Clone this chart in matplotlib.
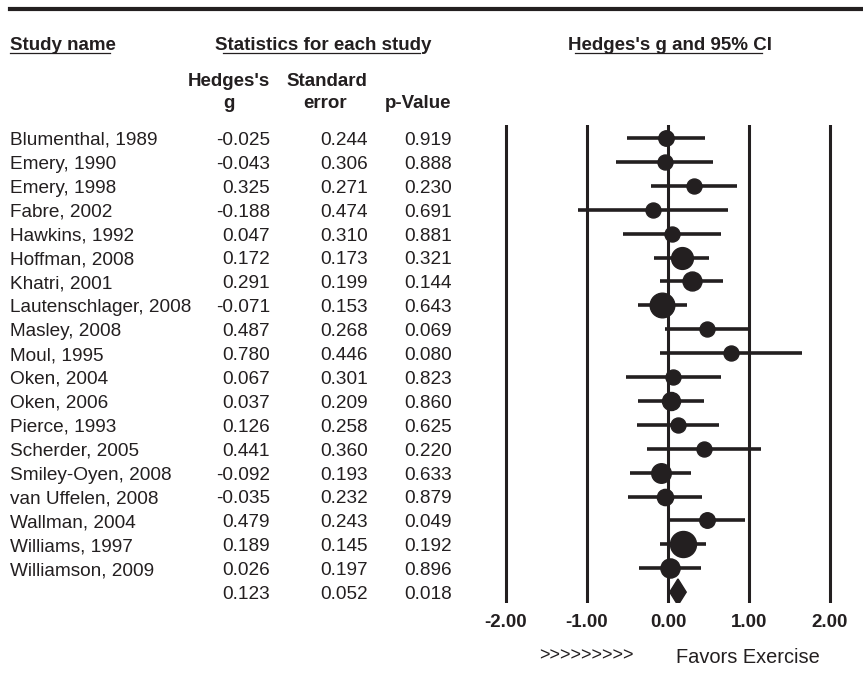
import numpy as np
import matplotlib
matplotlib.use("Agg")
import matplotlib.pyplot as plt
from matplotlib import transforms
from matplotlib.lines import Line2D

plt.rcParams["font.family"] = ["Liberation Sans", "DejaVu Sans"]

# data
studies = [
    "Blumenthal, 1989", "Emery, 1990", "Emery, 1998", "Fabre, 2002",
    "Hawkins, 1992", "Hoffman, 2008", "Khatri, 2001", "Lautenschlager, 2008",
    "Masley, 2008", "Moul, 1995", "Oken, 2004", "Oken, 2006", "Pierce, 1993",
    "Scherder, 2005", "Smiley-Oyen, 2008", "van Uffelen, 2008",
    "Wallman, 2004", "Williams, 1997", "Williamson, 2009",
]
hedges_g = [-0.025, -0.043, 0.325, -0.188, 0.047, 0.172, 0.291, -0.071,
            0.487, 0.780, 0.067, 0.037, 0.126, 0.441, -0.092, -0.035,
            0.479, 0.189, 0.026]
std_err = [0.244, 0.306, 0.271, 0.474, 0.310, 0.173, 0.199, 0.153,
           0.268, 0.446, 0.301, 0.209, 0.258, 0.360, 0.193, 0.232,
           0.243, 0.145, 0.197]
p_value = [0.919, 0.888, 0.230, 0.691, 0.881, 0.321, 0.144, 0.643,
           0.069, 0.080, 0.823, 0.860, 0.625, 0.220, 0.633, 0.879,
           0.049, 0.192, 0.896]
summary_g, summary_se, summary_p = 0.123, 0.052, 0.018
axis_ticks = [-2, -1, 0, 1, 2]

INK = "#231f20"
W, H = 863, 692
FS = 13.7   # body text
FSB = 13.5  # bold headers


def fx(px):
    return px / W


def fy(py):
    return 1 - py / H


fig = plt.figure(figsize=(8.63, 6.92), dpi=100)

# forest plot axes: 0 at 668 px, 81 px per unit, rows from y=138 step 23.9
ax = fig.add_axes([fx(489.8), fy(603), 364.5 / W, 478 / H])
ax.set_xlim(-2.2, 2.3)
ax.set_ylim(19.456, -0.544)
for s in ax.spines.values():
    s.set_visible(False)
ax.set_yticks([])
ax.set_xticks(axis_ticks)
ax.set_xticklabels(["%.2f" % t for t in axis_ticks], fontsize=FSB,
                   fontweight="bold", color=INK)
ax.tick_params(axis="x", length=0, pad=8)

for t in axis_ticks:
    ax.axvline(t, color=INK, lw=2.2, zorder=1)

for i, (g, se) in enumerate(zip(hedges_g, std_err)):
    lo, hi = g - 1.96 * se, g + 1.96 * se
    ax.plot([lo, hi], [i, i], color=INK, lw=2.6, solid_capstyle="butt",
            zorder=2)
    d = max(15, 3.77 / se)
    ax.plot(g, i, "o", color=INK, ms=d * 0.72, mec=INK, zorder=3)

n = len(studies)
lo, hi = summary_g - 1.96 * summary_se, summary_g + 1.96 * summary_se
ax.fill([lo, summary_g, hi, summary_g], [n, n - 0.55, n, n + 0.55],
        color=INK, zorder=3)

# table text
tr = transforms.blended_transform_factory(fig.transFigure, ax.transData)
off = 0.29
for i, name in enumerate(studies):
    y = i + off
    fig.text(fx(10), y, name, transform=tr, fontsize=FS, color=INK,
             va="baseline", ha="left")
    fig.text(fx(270), y, "%.3f" % hedges_g[i], transform=tr, fontsize=FS,
             color=INK, va="baseline", ha="right")
    fig.text(fx(368), y, "%.3f" % std_err[i], transform=tr, fontsize=FS,
             color=INK, va="baseline", ha="right")
    fig.text(fx(452), y, "%.3f" % p_value[i], transform=tr, fontsize=FS,
             color=INK, va="baseline", ha="right")
y = n + off
fig.text(fx(270), y, "%.3f" % summary_g, transform=tr, fontsize=FS,
         color=INK, va="baseline", ha="right")
fig.text(fx(368), y, "%.3f" % summary_se, transform=tr, fontsize=FS,
         color=INK, va="baseline", ha="right")
fig.text(fx(452), y, "%.3f" % summary_p, transform=tr, fontsize=FS,
         color=INK, va="baseline", ha="right")

# headers
fig.add_artist(Line2D([fx(10), 1.0], [fy(9), fy(9)], color=INK, lw=3))
fig.text(fx(10), fy(50), "Study name", fontsize=FSB, fontweight="bold",
         color=INK, va="baseline", ha="left")
fig.text(fx(323.5), fy(50), "Statistics for each study", fontsize=FSB,
         fontweight="bold", color=INK, va="baseline", ha="center")
fig.text(fx(670), fy(50), "Hedges's g and 95% CI", fontsize=FSB,
         fontweight="bold", color=INK, va="baseline", ha="center")
for a, b in [(10, 110), (223, 420), (575, 762)]:
    fig.add_artist(Line2D([fx(a), fx(b)], [fy(53), fy(53)], color=INK,
                          lw=0.9))

fig.text(fx(229), fy(86), "Hedges's", fontsize=FSB, fontweight="bold",
         color=INK, va="baseline", ha="center")
fig.text(fx(229), fy(108), "g", fontsize=FSB, fontweight="bold",
         color=INK, va="baseline", ha="center")
fig.text(fx(327), fy(86), "Standard", fontsize=FSB, fontweight="bold",
         color=INK, va="baseline", ha="center")
fig.text(fx(325), fy(108), "error", fontsize=FSB, fontweight="bold",
         color=INK, va="baseline", ha="center")
fig.text(fx(418), fy(108), "p-Value", fontsize=FSB, fontweight="bold",
         color=INK, va="baseline", ha="center")

fig.text(fx(586), fy(656), ">>>>>>>>>", fontsize=13, color=INK,
         va="center", ha="center")
fig.text(fx(676), fy(663), "Favors Exercise", fontsize=14.4, color=INK,
         va="baseline", ha="left")

fig.savefig("out.png", dpi=100)
